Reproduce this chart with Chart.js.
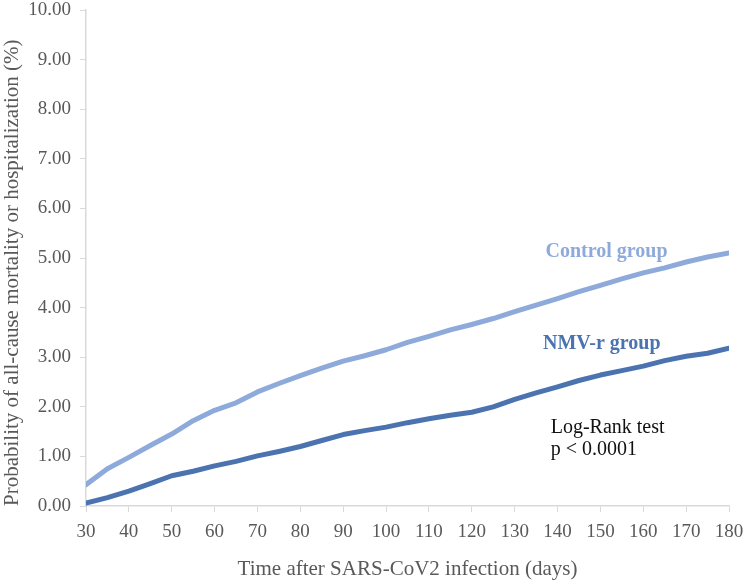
<!DOCTYPE html>
<html>
<head>
<meta charset="utf-8">
<script src="https://cdn.jsdelivr.net/npm/chart.js@4.4.1/dist/chart.umd.min.js"></script>
<style>
  html, body { margin: 0; padding: 0; background: #ffffff; }
  #wrap { width: 748px; height: 582px; }
</style>
</head>
<body>
<div id="wrap"><canvas id="km-chart" width="748" height="582"></canvas></div>
<script>
// --- Dados ---
const days = [30, 35, 40, 45, 50, 55, 60, 65, 70, 75, 80, 85, 90, 95, 100, 105,
              110, 115, 120, 125, 130, 135, 140, 145, 150, 155, 160, 165, 170, 175, 180];
const controlGroup = [0.43, 0.75, 0.98, 1.22, 1.45, 1.72, 1.93, 2.08, 2.30, 2.47, 2.63, 2.78, 2.92, 3.03, 3.15, 3.30,
                      3.42, 3.55, 3.66, 3.78, 3.92, 4.05, 4.18, 4.32, 4.45, 4.58, 4.70, 4.80, 4.92, 5.02, 5.10];
const nmvGroup = [0.06, 0.17, 0.30, 0.45, 0.61, 0.70, 0.81, 0.90, 1.01, 1.10, 1.20, 1.32, 1.44, 1.52, 1.59, 1.68,
                  1.76, 1.83, 1.89, 2.00, 2.15, 2.28, 2.40, 2.53, 2.64, 2.73, 2.82, 2.93, 3.02, 3.08, 3.18];
const xTicks = [30, 40, 50, 60, 70, 80, 90, 100, 110, 120, 130, 140, 150, 160, 170, 180];
const yTicks = [0, 1, 2, 3, 4, 5, 6, 7, 8, 9, 10];

const labels = [
    { text: 'Control group', x: 137.2, y: 5.12, color: '#8eaadb', bold: true },
    { text: 'NMV-r group', x: 136.6, y: 3.26, color: '#4a73b0', bold: true },
    { text: 'Log-Rank test', x: 138.4, y: 1.58, color: '#111111', bold: false },
    { text: 'p < 0.0001', x: 138.4, y: 1.13, color: '#111111', bold: false }
];

const SERIF = "'Liberation Serif', 'Times New Roman', serif";
const AXIS_GREY = '#d9d9d9';
const TEXT_GREY = '#595959';

// --- Plugin para os textos dentro do gráfico ---
const textPlugin = {
    id: 'textos',
    afterDatasetsDraw(chart) {
        const ctx = chart.ctx;
        const xs = chart.scales.x, ys = chart.scales.y;
        ctx.save();
        ctx.textAlign = 'left';
        ctx.textBaseline = 'middle';
        labels.forEach(l => {
            ctx.font = (l.bold ? 'bold ' : '') + '20px ' + SERIF;
            ctx.fillStyle = l.color;
            ctx.fillText(l.text, xs.getPixelForValue(l.x), ys.getPixelForValue(l.y));
        });
        ctx.restore();
    }
};

function toPoints(values) {
    return days.map((d, i) => ({ x: d, y: values[i] }));
}

new Chart(document.getElementById('km-chart'), {
    type: 'line',
    data: {
        datasets: [
            {
                label: 'Control group',
                data: toPoints(controlGroup),
                borderColor: '#8eaadb',
                borderWidth: 5,
                pointRadius: 0,
                tension: 0,
                borderCapStyle: 'round',
                borderJoinStyle: 'round'
            },
            {
                label: 'NMV-r group',
                data: toPoints(nmvGroup),
                borderColor: '#4a73b0',
                borderWidth: 5,
                pointRadius: 0,
                tension: 0,
                borderCapStyle: 'round',
                borderJoinStyle: 'round'
            }
        ]
    },
    options: {
        responsive: false,
        animation: false,
        layout: { padding: { top: 10, right: 19, left: 0, bottom: 0 } },
        scales: {
            x: {
                type: 'linear',
                min: 30, max: 180,
                afterBuildTicks: axis => { axis.ticks = xTicks.map(v => ({ value: v })); },
                afterFit: axis => { axis.height = 76; axis.paddingLeft = 0; axis.paddingRight = 0; },
                ticks: {
                    color: TEXT_GREY,
                    font: { family: SERIF, size: 19 },
                    padding: 9,
                    maxRotation: 0
                },
                grid: { drawOnChartArea: false, drawTicks: true, tickLength: 6, color: AXIS_GREY },
                border: { display: true, color: AXIS_GREY, width: 1.5 },
                title: {
                    display: true,
                    text: 'Time after SARS-CoV2 infection (days)',
                    color: TEXT_GREY,
                    font: { family: SERIF, size: 21 },
                    padding: { top: 8, bottom: 0 }
                }
            },
            y: {
                min: 0, max: 10,
                afterBuildTicks: axis => { axis.ticks = yTicks.map(v => ({ value: v })); },
                afterFit: axis => { axis.width = 86; axis.paddingTop = 0; axis.paddingBottom = 0; },
                ticks: {
                    color: TEXT_GREY,
                    font: { family: SERIF, size: 19 },
                    padding: 9,
                    callback: v => Number(v).toFixed(2)
                },
                grid: { drawOnChartArea: false, drawTicks: true, tickLength: 6, color: AXIS_GREY },
                border: { display: true, color: AXIS_GREY, width: 1.5 },
                title: {
                    display: true,
                    align: 'start',
                    text: 'Probability of all-cause mortality or hospitalization (%)',
                    color: TEXT_GREY,
                    font: { family: SERIF, size: 21 },
                    padding: { top: 0, bottom: 0 }
                }
            }
        },
        plugins: {
            legend: { display: false },
            tooltip: { enabled: false }
        }
    },
    plugins: [textPlugin]
});
</script>
</body>
</html>
